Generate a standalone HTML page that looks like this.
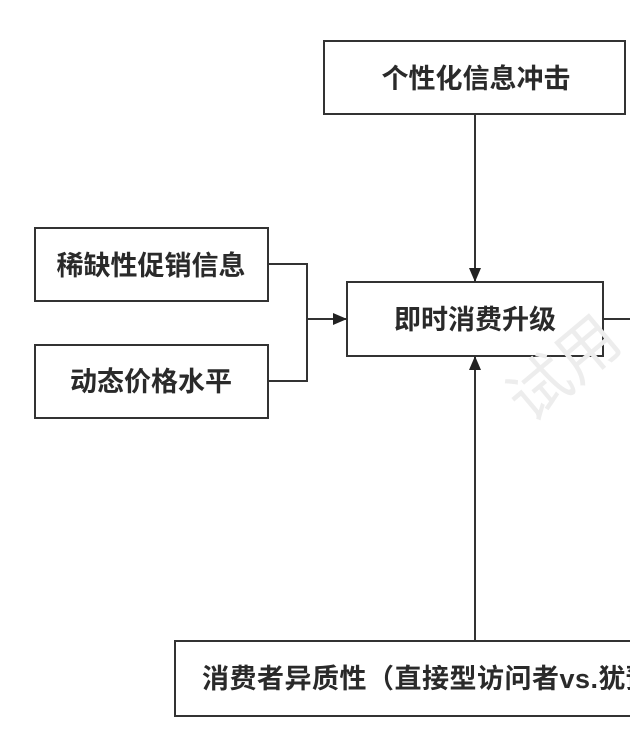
<!DOCTYPE html>
<html><head><meta charset="utf-8"><style>
html,body{margin:0;padding:0;background:#fff;width:630px;height:752px;overflow:hidden}
text{font-family:"Liberation Sans","Noto Sans CJK SC",sans-serif;font-weight:bold;fill:#2a2a2a;font-size:27px}
</style></head><body>
<svg width="630" height="752" viewBox="0 0 630 752" xmlns="http://www.w3.org/2000/svg">
<defs><marker id="b" viewBox="0 0 14 12" markerWidth="14" markerHeight="12" refX="13" refY="6" orient="auto" markerUnits="userSpaceOnUse"><path d="M0,0 L14,6 L0,12 z" fill="#222"/></marker></defs>
<g fill="#fff" stroke="#333" stroke-width="2">
<rect x="324" y="41" width="301" height="73"/>
<rect x="35" y="228" width="233" height="73"/>
<rect x="35" y="345" width="233" height="73"/>
<rect x="347" y="282" width="256" height="74"/>
<rect x="175" y="641" width="470" height="75"/>
</g>
<text x="530" y="425" transform="rotate(-40 530 425)" style="font-size:62px;font-weight:normal;fill:#ededed">试用</text>
<g stroke="#333" stroke-width="2" fill="none">
<line x1="475" y1="114" x2="475" y2="281" marker-end="url(#b)"/>
<polyline points="268,264 307,264 307,381 268,381"/>
<line x1="307" y1="319" x2="346" y2="319" marker-end="url(#b)"/>
<line x1="475" y1="641" x2="475" y2="357" marker-end="url(#b)"/>
<line x1="603" y1="319" x2="630" y2="319"/>
</g>
<text x="476" y="88" text-anchor="middle">个性化信息冲击</text>
<text x="151" y="275" text-anchor="middle">稀缺性促销信息</text>
<text x="151" y="391" text-anchor="middle">动态价格水平</text>
<text x="475" y="329" text-anchor="middle">即时消费升级</text>
<text x="202" y="688" letter-spacing="0.5">消费者异质性（直接型访问者vs.犹豫型访问者）</text>
</svg>
</body></html>
